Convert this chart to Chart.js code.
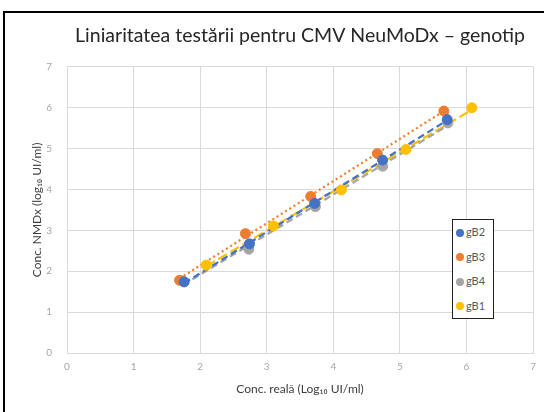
<!DOCTYPE html>
<html>
<head>
<meta charset="utf-8">
<script src="https://cdn.jsdelivr.net/npm/chart.js@4"></script>
<style>
  body { margin: 0; background: #fff; }
  #wrap { position: relative; width: 544px; height: 412px; }
  #frame { position: absolute; left: 3px; top: 11px; width: 560px; height: 420px;
           border-left: 2px solid #000; border-top: 2px solid #000; pointer-events: none; }
  #legend { position: absolute; left: 452px; top: 219px; width: 40px; height: 98px;
            border: 1px solid #222; background: #fff; font-family: Lato, sans-serif;
            font-size: 11px; color: #595959; }
  #legend div { height: 24.5px; line-height: 24.5px; padding-left: 3px; white-space: nowrap; }
  #legend span { display: inline-block; width: 8px; height: 8px; border-radius: 50%;
                 margin-right: 2px; vertical-align: -0.5px; }
</style>
</head>
<body>
<div id="wrap">
  <canvas id="chart" width="544" height="412"></canvas>
  <div id="frame"></div>
  <div id="legend"></div>
</div>
<script>
// date
const seriesNames = ['gB2', 'gB3', 'gB4', 'gB1'];
const seriesColors = ['#4472C4', '#ED7D31', '#A5A5A5', '#FFC000'];
const gB2_x = [1.76, 2.74, 3.72, 4.74, 5.71];
const gB2_y = [1.74, 2.67, 3.66, 4.72, 5.71];
const gB3_x = [1.69, 2.68, 3.66, 4.66, 5.66];
const gB3_y = [1.78, 2.92, 3.83, 4.88, 5.92];
const gB4_x = [1.74, 2.73, 3.73, 4.74, 5.72];
const gB4_y = [1.76, 2.54, 3.58, 4.57, 5.63];
const gB1_x = [2.09, 3.10, 4.12, 5.09, 6.08];
const gB1_y = [2.15, 3.11, 3.99, 4.98, 6.00];
const xTicks = [0, 1, 2, 3, 4, 5, 6, 7];
const yTicks = [0, 1, 2, 3, 4, 5, 6, 7];

const allX = [gB2_x, gB3_x, gB4_x, gB1_x];
const allY = [gB2_y, gB3_y, gB4_y, gB1_y];
const dashes = [[7, 4], [2, 3], [7, 4], [10, 4]];

// linie de tendinta (regresie liniara)
function trend(xs, ys) {
    const n = xs.length;
    const mx = xs.reduce((a, b) => a + b, 0) / n;
    const my = ys.reduce((a, b) => a + b, 0) / n;
    let sxy = 0, sxx = 0;
    for (let i = 0; i < n; i++) {
        sxy += (xs[i] - mx) * (ys[i] - my);
        sxx += (xs[i] - mx) * (xs[i] - mx);
    }
    const b = sxy / sxx, a = my - b * mx;
    const x0 = Math.min(...xs), x1 = Math.max(...xs);
    return [{ x: x0, y: a + b * x0 }, { x: x1, y: a + b * x1 }];
}

const datasets = [];
seriesNames.forEach((name, i) => {
    datasets.push({
        type: 'line',
        label: name + ' trend',
        data: trend(allX[i], allY[i]),
        borderColor: seriesColors[i],
        borderWidth: 2.25,
        borderDash: dashes[i],
        pointRadius: 0,
        fill: false,
        order: 1,
        isTrend: true
    });
});
seriesNames.forEach((name, i) => {
    datasets.push({
        label: name,
        data: allX[i].map((x, k) => ({ x: x, y: allY[i][k] })),
        backgroundColor: seriesColors[i],
        borderColor: seriesColors[i],
        pointRadius: 5,
        pointHoverRadius: 5,
        order: 0
    });
});

const gridColor = '#d9d9d9';

const chart = new Chart(document.getElementById('chart').getContext('2d'), {
    type: 'scatter',
    data: { datasets: datasets },
    options: {
        responsive: false,
        animation: false,
        layout: { padding: { left: 0, right: 7, top: 0, bottom: 0 } },
        plugins: {
            legend: { display: false },
            tooltip: { enabled: false },
            title: {
                display: true,
                text: 'Liniaritatea testării pentru CMV NeuMoDx – genotip',
                color: '#262626',
                fullSize: false,
                font: { family: 'Lato, sans-serif', size: 19.5, weight: 'normal' },
                padding: { top: 24, bottom: 19.5 }
            }
        },
        scales: {
            x: {
                type: 'linear',
                min: 0, max: 7,
                afterBuildTicks: s => { s.ticks = xTicks.map(v => ({ value: v })); },
                afterFit: s => { s.height = 59; },
                grid: { color: gridColor, drawTicks: false },
                border: { color: gridColor },
                ticks: { color: '#a6a6a6', padding: 8, font: { family: 'Lato, sans-serif', size: 10 } },
                title: {
                    display: true,
                    text: 'Conc. reală (Log₁₀ UI/ml)',
                    color: '#404040',
                    font: { family: 'Lato, sans-serif', size: 12 },
                    padding: { top: 0, bottom: 16 }
                }
            },
            y: {
                type: 'linear',
                min: 0, max: 7,
                afterBuildTicks: s => { s.ticks = yTicks.map(v => ({ value: v })); },
                afterFit: s => { s.width = 67; },
                grid: { color: gridColor, drawTicks: false },
                border: { color: gridColor },
                ticks: { color: '#a6a6a6', padding: 15, font: { family: 'Lato, sans-serif', size: 10 } },
                title: {
                    display: true,
                    text: 'Conc. NMDx (log₁₀ UI/ml)',
                    color: '#404040',
                    font: { family: 'Lato, sans-serif', size: 12 },
                    padding: { top: 30, bottom: 0 }
                }
            }
        }
    }
});

// legenda HTML construita din seturile de date
const leg = document.getElementById('legend');
chart.data.datasets.filter(d => !d.isTrend).forEach(d => {
    const row = document.createElement('div');
    row.innerHTML = '<span style="background:' + d.backgroundColor + '"></span>' + d.label;
    leg.appendChild(row);
});
</script>
</body>
</html>
